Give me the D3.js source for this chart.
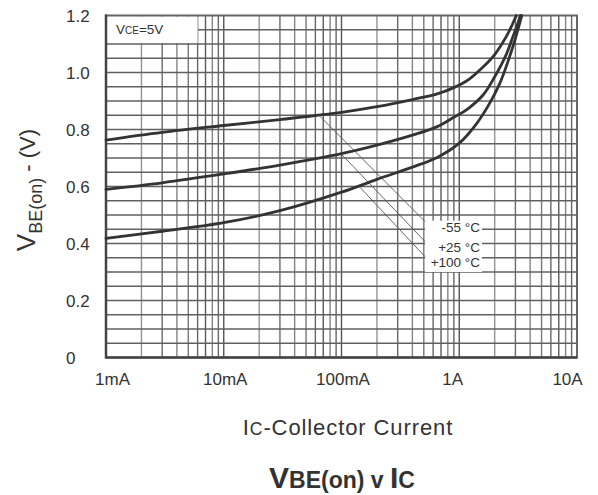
<!DOCTYPE html>
<html><head><meta charset="utf-8">
<script src="https://cdn.jsdelivr.net/npm/d3@7"></script>
<style>
html,body{margin:0;padding:0;background:#fff;}
svg{display:block;font-family:"Liberation Sans",Arial,sans-serif;}
</style></head>
<body><svg id="c" width="598" height="495"></svg>
<script>
// ---- data ----
const xTickValues = [0.001, 0.01, 0.1, 1, 10];
const xTickLabels = ["1mA", "10mA", "100mA", "1A", "10A"];
const yTickValues = [0, 0.2, 0.4, 0.6, 0.8, 1.0, 1.2];
const yTickLabels = ["0", "0.2", "0.4", "0.6", "0.8", "1.0", "1.2"];

const seriesNames = ["-55 °C", "+25 °C", "+100 °C"];
const currentM55 = [0.001, 0.003, 0.01, 0.03, 0.1, 0.2, 0.4, 0.65, 0.9, 1.2, 1.6, 2.0, 2.5, 2.8, 3.05];
const vbeM55     = [0.763, 0.790, 0.814, 0.835, 0.860, 0.880, 0.905, 0.925, 0.947, 0.975, 1.02, 1.063, 1.125, 1.165, 1.2];
const currentP25 = [0.001, 0.003, 0.01, 0.03, 0.1, 0.2, 0.4, 0.65, 0.9, 1.16, 1.6, 2.0, 2.5, 2.85, 3.1, 3.3];
const vbeP25     = [0.59, 0.613, 0.644, 0.675, 0.715, 0.745, 0.78, 0.81, 0.843, 0.87, 0.922, 0.985, 1.062, 1.125, 1.165, 1.2];
const currentP100 = [0.001, 0.003, 0.01, 0.03, 0.1, 0.2, 0.4, 0.65, 1.0, 1.4, 1.8, 2.2, 2.6, 3.0, 3.4];
const vbeP100     = [0.418, 0.443, 0.473, 0.515, 0.58, 0.625, 0.668, 0.702, 0.752, 0.82, 0.89, 0.96, 1.04, 1.12, 1.2];

// annotation leader lines: start on curve (current, V) -> end near label (current, V)
const leaderStartI = [0.0657, 0.1, 0.1436];
const leaderStartV = [0.846, 0.713, 0.597];
const leaderEndI   = [0.512, 0.512, 0.512];
const leaderEndV   = [0.477, 0.407, 0.354];

// ---- drawing ----
const svg = d3.select("#c");
svg.append("rect").attr("width",598).attr("height",495).attr("fill","#fff");

const L = 106, R = 577, T = 15.5, B = 357.5;
const x = d3.scaleLog().domain([0.001, 10]).range([L, R]);
const y = d3.scaleLinear().domain([0, 1.2]).range([B, T]);

const g = svg.append("g");

// vertical grid (log minors)
const minorShade = {1:"#555",2:"#949494",3:"#6a6a6a",4:"#858585",5:"#777",6:"#666",7:"#5a5a5a",8:"#848484",9:"#666"};
const vLines = [];
for (let d = -3; d < 1; d++) for (let k = 1; k <= 9; k++) {
  if (d === -3 && k === 1) continue;
  vLines.push({v: k * Math.pow(10, d), k});
}
g.selectAll("line.vg").data(vLines).join("line").attr("class","vg")
  .attr("x1", d => x(d.v)).attr("x2", d => x(d.v))
  .attr("y1", T).attr("y2", B)
  .attr("stroke", d => minorShade[d.k]).attr("stroke-width", 1.4);

// horizontal grid every 0.05
const hVals = d3.range(1, 24).map(i => i * 0.05);
g.selectAll("line.hg").data(hVals).join("line").attr("class","hg")
  .attr("x1", L).attr("x2", R)
  .attr("y1", d => y(d)).attr("y2", d => y(d))
  .attr("stroke", "#606060").attr("stroke-width", 1.4);

// VCE box (white) top-left
g.append("rect").attr("x", L + 1).attr("y", T + 1)
  .attr("width", x(0.006) - L - 1).attr("height", y(1.1) - T - 2)
  .attr("fill", "#fff");
const vce = g.append("text").attr("x", L + 10).attr("y", T + 18.5)
  .attr("fill", "#333").attr("font-size", 13.5);
vce.append("tspan").text("V");
vce.append("tspan").attr("font-size", 10).text("CE");
vce.append("tspan").text("=5V");

// frame
g.append("rect").attr("x", L).attr("y", T).attr("width", R - L).attr("height", B - T)
  .attr("fill", "none").attr("stroke", "#666").attr("stroke-width", 2);
g.append("line").attr("x1", L).attr("x2", L).attr("y1", T - 1).attr("y2", B + 1)
  .attr("stroke", "#444").attr("stroke-width", 2.5);
g.append("line").attr("x1", L).attr("x2", R).attr("y1", B).attr("y2", B)
  .attr("stroke", "#444").attr("stroke-width", 2.5);

// label box (white) for temperatures
const bx0 = x(0.512), by0 = y(0.48), by1 = y(0.30);
g.append("rect").attr("x", bx0).attr("y", by0).attr("width", 57).attr("height", by1 - by0)
  .attr("fill", "#fff");

// leaders
g.selectAll("line.ld").data(leaderStartI).join("line").attr("class","ld")
  .attr("x1", (d,i) => x(d)).attr("y1", (d,i) => y(leaderStartV[i]))
  .attr("x2", (d,i) => x(leaderEndI[i])).attr("y2", (d,i) => y(leaderEndV[i]))
  .attr("stroke", "#555").attr("stroke-width", 0.9);

// curves
const series = [
  {i: currentM55, v: vbeM55},
  {i: currentP25, v: vbeP25},
  {i: currentP100, v: vbeP100}
];
const line = d3.line().x(d => x(d[0])).y(d => y(d[1])).curve(d3.curveCatmullRom.alpha(0.5));
g.selectAll("path.cv").data(series).join("path").attr("class","cv")
  .attr("d", s => line(s.i.map((c, k) => [c, s.v[k]])))
  .attr("fill", "none").attr("stroke", "#333").attr("stroke-width", 2.8)
  .attr("stroke-linecap", "round");

// temperature labels
g.selectAll("text.tl").data(seriesNames).join("text").attr("class","tl")
  .attr("x", x(0.512) + 55).attr("y", (d,i) => y(leaderEndV[i]) + 10)
  .attr("text-anchor", "end").attr("font-size", 13.5).attr("fill", "#333")
  .text(d => d);

// x axis
const xAxis = d3.axisBottom(x).tickValues(xTickValues).tickSize(0)
  .tickFormat((d,i) => xTickLabels[i]);
const xa = svg.append("g").attr("transform", `translate(0,${B})`).call(xAxis);
xa.select(".domain").remove();
xa.selectAll("text").attr("font-size", 17).attr("fill", "#333")
  .attr("font-family", "Liberation Sans, Arial, sans-serif")
  .attr("dy", 24)
  .attr("dx", (d,i) => i === 0 ? 6 : (i === 3 ? -7 : (i === 4 ? -10 : 1)));

// y axis
const yAxis = d3.axisLeft(y).tickValues(yTickValues).tickSize(0)
  .tickFormat((d,i) => yTickLabels[i]);
const ya = svg.append("g").attr("transform", `translate(${L},0)`).call(yAxis);
ya.select(".domain").remove();
ya.selectAll("text").attr("font-size", 17).attr("fill", "#333")
  .attr("font-family", "Liberation Sans, Arial, sans-serif")
  .attr("text-anchor", "start").attr("x", -40).attr("dy", "0.35em");

// y title
const yt = svg.append("text").attr("transform", "translate(35,190) rotate(-90)")
  .attr("text-anchor", "middle").attr("fill", "#333");
yt.append("tspan").attr("font-size", 26).text("V");
yt.append("tspan").attr("font-size", 18).attr("dy", 7).text("BE(on)");
yt.append("tspan").attr("font-size", 22).attr("dy", -7).text(" - (V)");

// x title
const xt = svg.append("text").attr("x", 348).attr("y", 435)
  .attr("text-anchor", "middle").attr("fill", "#333").attr("font-size", 22)
  .attr("letter-spacing", 0.9);
xt.append("tspan").text("I");
xt.append("tspan").attr("font-size", 17.5).text("C");
xt.append("tspan").text("-Collector Current");

// chart title
const tt = svg.append("text").attr("x", 342).attr("y", 488)
  .attr("text-anchor", "middle").attr("fill", "#333").attr("font-weight", "bold");
tt.append("tspan").attr("font-size", 30).text("V");
tt.append("tspan").attr("font-size", 23).text("BE(on) v ");
tt.append("tspan").attr("font-size", 30).text("I");
tt.append("tspan").attr("font-size", 23).text("C");
</script></body></html>
